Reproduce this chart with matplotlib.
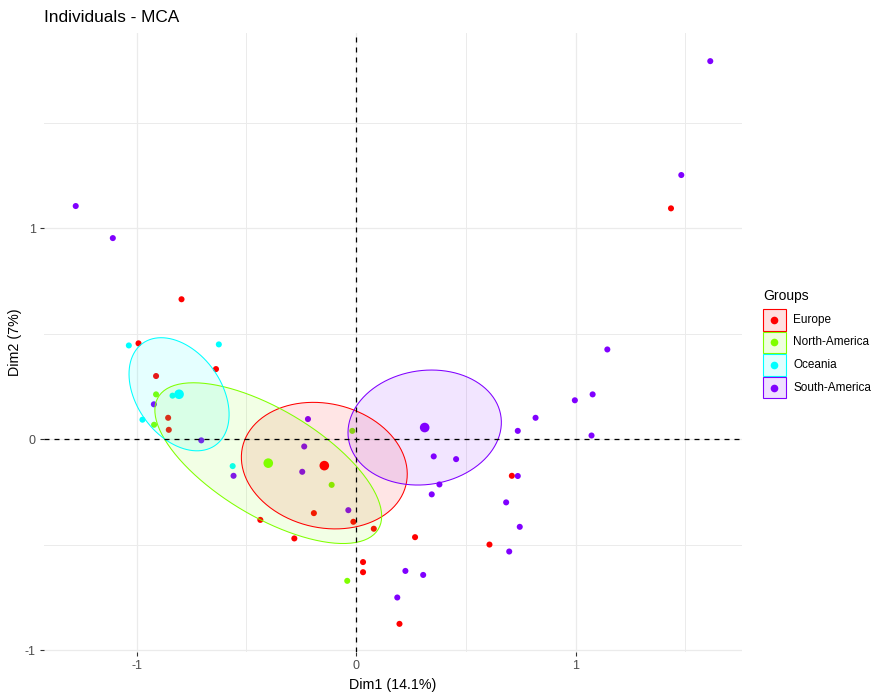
import numpy as np
import matplotlib
matplotlib.use("Agg")
import matplotlib.pyplot as plt
from matplotlib.patches import Polygon, Rectangle
from matplotlib.lines import Line2D

plt.rcParams['font.family'] = ['Liberation Sans', 'DejaVu Sans']
plt.rcParams['axes.unicode_minus'] = False

# ---- data: MCA individual coordinates (Dim1, Dim2) by group ----
groups = ["Europe", "North-America", "Oceania", "South-America"]
colors = ["#FF0000", "#80FF00", "#00FFFF", "#8000FF"]

europe_x = [-0.795, -0.991, -0.638, -0.911, -0.856, -0.853, -0.436, -0.281, -0.192,
            -0.012, 0.081, 0.269, 0.032, 0.032, 0.198, 0.608, 0.710, 1.435]
europe_y = [0.663, 0.454, 0.332, 0.299, 0.101, 0.044, -0.383, -0.471, -0.351,
            -0.392, -0.425, -0.465, -0.583, -0.631, -0.876, -0.500, -0.174, 1.094]

namerica_x = [-0.911, -0.920, -0.111, -0.017, -0.040]
namerica_y = [0.212, 0.068, -0.217, 0.039, -0.672]

oceania_x = [-1.035, -0.625, -0.836, -0.973, -0.562]
oceania_y = [0.444, 0.449, 0.206, 0.092, -0.128]

samerica_x = [1.614, 1.482, -1.277, -1.108, 1.145, 1.078, 0.997, 0.818, 0.737, 1.073,
              0.456, 0.354, 0.737, 0.380, 0.345, 0.684, 0.746, 0.698, 0.225, 0.306,
              0.188, -0.035, -0.219, -0.236, -0.245, -0.558, -0.921, -0.705]
samerica_y = [1.792, 1.252, 1.105, 0.953, 0.425, 0.212, 0.184, 0.101, 0.039, 0.017,
              -0.095, -0.082, -0.175, -0.215, -0.262, -0.300, -0.416, -0.533, -0.625, -0.644,
              -0.751, -0.337, 0.095, -0.035, -0.155, -0.174, 0.165, -0.006]

group_x = [europe_x, namerica_x, oceania_x, samerica_x]
group_y = [europe_y, namerica_y, oceania_y, samerica_y]

x_ticks = [-1, 0, 1]
y_ticks = [-1, 0, 1]
x_title = "Dim1 (14.1%)"
y_title = "Dim2 (7%)"
title = "Individuals - MCA"
legend_title = "Groups"


def confidence_ellipse(x, y, level=0.95, npts=100):
    """Confidence ellipse around the group barycentre (cov / n)."""
    xy = np.column_stack([x, y])
    centre = xy.mean(axis=0)
    cov = np.cov(xy.T) / len(x)
    radius = np.sqrt(-2.0 * np.log(1.0 - level))  # sqrt(chi2_{2}(level))
    vals, vecs = np.linalg.eigh(cov)
    t = np.linspace(0, 2 * np.pi, npts)
    circ = np.column_stack([np.cos(t), np.sin(t)])
    return (circ * np.sqrt(vals) * radius) @ vecs.T + centre


W, H = 873, 693
fig = plt.figure(figsize=(W / 100, H / 100), dpi=100)
px_l, px_r, px_t, px_b = 44, 742, 33, 652
ax = fig.add_axes([px_l / W, 1 - px_b / H, (px_r - px_l) / W, (px_b - px_t) / H])

# individual points
for gx, gy, col in zip(group_x, group_y, colors):
    ax.scatter(gx, gy, s=19, color=col, edgecolors='none', zorder=3)

# confidence ellipses
for gx, gy, col in zip(group_x, group_y, colors):
    pts = confidence_ellipse(gx, gy)
    ax.add_patch(Polygon(pts, closed=True, facecolor=col, alpha=0.1,
                         edgecolor='none', zorder=4))
    ax.add_patch(Polygon(pts, closed=True, facecolor='none', edgecolor=col,
                         lw=0.75, zorder=5))

# group means
for gx, gy, col in zip(group_x, group_y, colors):
    ax.scatter([np.mean(gx)], [np.mean(gy)], s=48, color=col, edgecolors='none', zorder=6)

ax.axhline(0, color='black', lw=0.9, ls=(0, (4, 4)), zorder=7)
ax.axvline(0, color='black', lw=0.9, ls=(0, (4, 4)), zorder=7)

# limits: data range expanded by 5 %
all_x = np.concatenate([np.asarray(v) for v in group_x])
all_y = np.concatenate([np.asarray(v) for v in group_y])
dx = (all_x.max() - all_x.min()) * 0.05
dy = (all_y.max() - all_y.min()) * 0.05
ax.set_xlim(all_x.min() - dx, all_x.max() + dx)
ax.set_ylim(all_y.min() - dy, all_y.max() + dy)

ax.set_xticks(x_ticks)
ax.set_xticklabels([str(v) for v in x_ticks])
ax.set_yticks(y_ticks)
ax.set_yticklabels([str(v) for v in y_ticks])
ax.set_xticks([-0.5, 0.5, 1.5], minor=True)
ax.set_yticks([-0.5, 0.5, 1.5], minor=True)
ax.tick_params(which='major', length=3, width=0.8, color='#333333',
               labelcolor='#4D4D4D', labelsize=9, pad=3)
ax.tick_params(which='minor', length=0)
ax.grid(which='major', color='#EBEBEB', lw=0.9)
ax.grid(which='minor', color='#EBEBEB', lw=0.7)
ax.set_axisbelow(True)
for sp in ax.spines.values():
    sp.set_visible(False)

ax.set_xlabel(x_title, fontsize=10.3, color='black', labelpad=4)
ax.set_ylabel(y_title, fontsize=10.3, color='black', labelpad=2)

fig.text(px_l / W, 1 - 17 / H, title, fontsize=12.4, va='center', ha='left')


# legend drawn in figure pixel coordinates
def fx(p):
    return p / W


def fy(p):
    return 1 - p / H


fig.text(fx(763), fy(296), legend_title, fontsize=10, va='center', ha='left')
key_w, key_h = 22.5, 21.5
row0 = 309
for i, (g, col) in enumerate(zip(groups, colors)):
    top = row0 + i * 22.6
    fig.patches.append(Rectangle((fx(763), fy(top + key_h)), key_w / W, key_h / H,
                                 transform=fig.transFigure, facecolor=col, alpha=0.12,
                                 edgecolor='none'))
    fig.patches.append(Rectangle((fx(763), fy(top + key_h)), key_w / W, key_h / H,
                                 transform=fig.transFigure, facecolor='none',
                                 edgecolor=col, lw=0.8))
    fig.lines.append(Line2D([fx(763 + key_w / 2)], [fy(top + key_h / 2)],
                            transform=fig.transFigure, marker='o', ms=5.5,
                            color=col, mec='none', ls='none'))
    fig.text(fx(793), fy(top + key_h / 2), g, fontsize=8.5, va='center', ha='left')

fig.savefig("out.png", dpi=100, facecolor='white')
